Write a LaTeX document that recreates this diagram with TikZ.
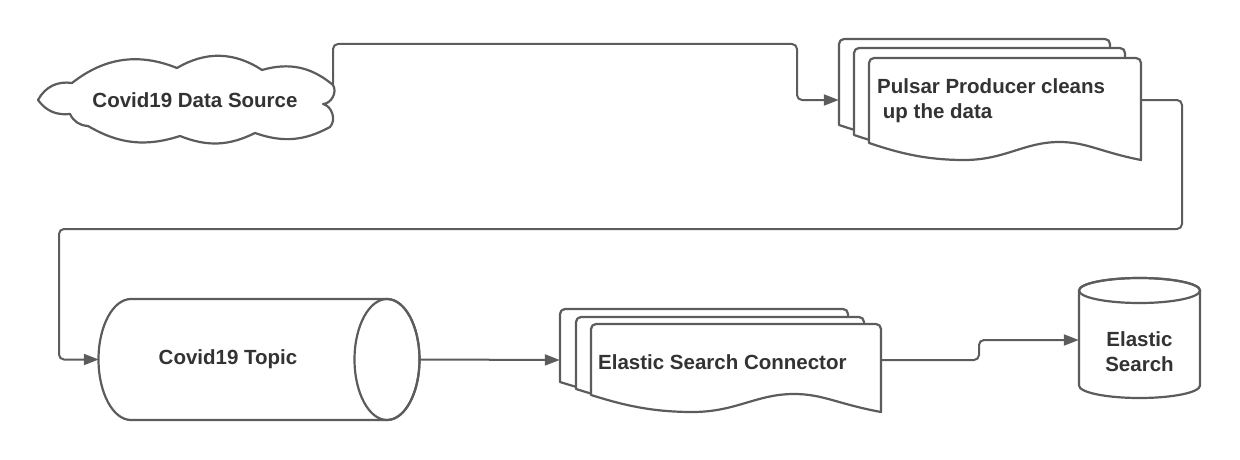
\documentclass[tikz,border=0pt]{standalone}
\usepackage{fontspec}
\setmainfont{Liberation Sans}
\usetikzlibrary{arrows.meta}
\definecolor{ln}{HTML}{5C5C5C}
\definecolor{tx}{HTML}{333333}
% document shape: left, top, right, bottom-left (screen px, y down)
\newcommand{\docshape}[4]{%
  \pgfmathsetmacro{\dW}{#3-#1}%
  \pgfmathsetmacro{\xa}{#1+0.85*\dW}%
  \pgfmathsetmacro{\xb}{#1+0.80*\dW}%
  \pgfmathsetmacro{\xc}{#1+0.70*\dW}%
  \pgfmathsetmacro{\xd}{#1+0.57*\dW}%
  \pgfmathsetmacro{\xe}{#1+0.50*\dW}%
  \pgfmathsetmacro{\xf}{#1+0.35*\dW}%
  \pgfmathsetmacro{\xg}{#1+0.20*\dW}%
  \pgfmathsetmacro{\xh}{#1+0.10*\dW}%
  \pgfmathsetmacro{\yB}{-(#4)}%
  \pgfmathsetmacro{\yD}{-(#4+17)}%
  \pgfmathsetmacro{\yM}{-(#4+9)}%
  \pgfmathsetmacro{\yP}{-(#4-1)}%
  \pgfmathsetmacro{\yT}{-(#2)}%
  \pgfmathsetmacro{\yTr}{-(#2+5)}%
  \pgfmathsetmacro{\xLr}{#1+5}%
  \pgfmathsetmacro{\xRr}{#3-5}%
  \draw[shapeline,fill=white] (#1,\yB) -- (#1,\yTr) arc[start angle=180,end angle=90,radius=5pt]
    -- (\xRr,\yT) arc[start angle=90,end angle=0,radius=5pt] -- (#3,\yD)
    .. controls (\xa,\yM) and (\xb,\yP) .. (\xc,\yP)
    .. controls (\xd,\yP) and (\xe,\yD) .. (\xf,\yD)
    .. controls (\xg,\yD) and (\xh,\yM) .. (#1,\yB) -- cycle;%
}
\begin{document}
\begin{tikzpicture}[x=1pt,y=1pt,
  shapeline/.style={draw=ln,line width=2.2pt,line join=round},
  arrowline/.style={draw=ln,line width=2pt,rounded corners=5pt,-{Triangle[length=15pt,width=11pt]}},
  lbl/.style={text=tx,inner sep=0pt,font=\fontsize{20.5}{25}\selectfont\bfseries},
  hold/.style={inner sep=0pt,draw=none}]
\useasboundingbox (0,0) rectangle (1240,-460);

% cloud
\draw[shapeline,fill=white] (38,-100) to[bend left=35] (72,-83) to[bend left=30] (177,-68)
  to[bend left=32] (262,-70) to[bend left=28] (333,-85) to[bend left=60] (323,-104)
  to[bend left=60] (330,-127) to[bend left=24] (255,-133) to[bend left=24] (180,-136)
  to[bend left=24] (88,-126) to[bend left=30] (70,-114) to[bend left=30] (38,-100) -- cycle;
\node[lbl] (src) at (195,-100) {Covid19 Data Source};
\coordinate (srcout) at (333,-84);

% producer stack
\docshape{839}{39}{1110}{125}
\docshape{854}{48}{1125}{135}
\docshape{869}{58}{1141}{143}
\node[hold,minimum width=302pt,minimum height=104pt] (prod) at (990,-100) {};
\node[lbl,anchor=west,align=left] (prodtext) at (877,-100.5) {Pulsar Producer cleans\\\hspace*{0.28em}up the data};

% topic cylinder
\draw[shapeline,fill=white] (131,-299) -- (387,-299)
  arc[start angle=90,end angle=-90,x radius=32.5pt,y radius=60.5pt] -- (131,-420)
  arc[start angle=270,end angle=90,x radius=32.5pt,y radius=60.5pt] -- cycle;
\draw[shapeline] (387,-359.5) ellipse[x radius=32.5pt,y radius=60.5pt];
\node[hold,minimum width=321pt,minimum height=121pt] (topic) at (259.5,-359.5) {};
\node[lbl] (topictext) at (228,-359.5) {Covid19 Topic};

% connector stack
\docshape{560}{309}{848}{382}
\docshape{576}{317}{864}{389}
\docshape{591}{324}{881}{395}
\node[hold,minimum width=321pt,minimum height=100pt] (conn) at (720.5,-360) {};
\node[lbl,anchor=west] (conntext) at (598,-362) {Elastic Search Connector};

% elastic search database
\draw[shapeline,fill=white] (1079,-290.5) -- (1079,-385.5)
  arc[start angle=180,end angle=360,x radius=60.5pt,y radius=12.5pt] -- (1200,-290.5)
  arc[start angle=0,end angle=180,x radius=60.5pt,y radius=12.5pt] -- cycle;
\draw[shapeline] (1139.5,-290.5) ellipse[x radius=60.5pt,y radius=12.5pt];
\node[hold,minimum width=121pt,minimum height=110pt] (es) at (1139.5,-340) {};
\node[lbl,align=center] (estext) at (1139.5,-352) {Elastic\\Search};

% connectors
\draw[arrowline] (srcout) -- (333,-44) -- (797,-44) -- (797,-100) -- (prod.west);
\draw[arrowline] (prod.east) -- (1182,-100) -- (1182,-229) -- (59,-229) -- (59,-359.5) -- (topic.west);
\draw[arrowline] (topic.east) -- (conn.west);
\draw[arrowline] (conn.east) -- (979,-360) -- (979,-340) -- (es.west);
\end{tikzpicture}
\end{document}
